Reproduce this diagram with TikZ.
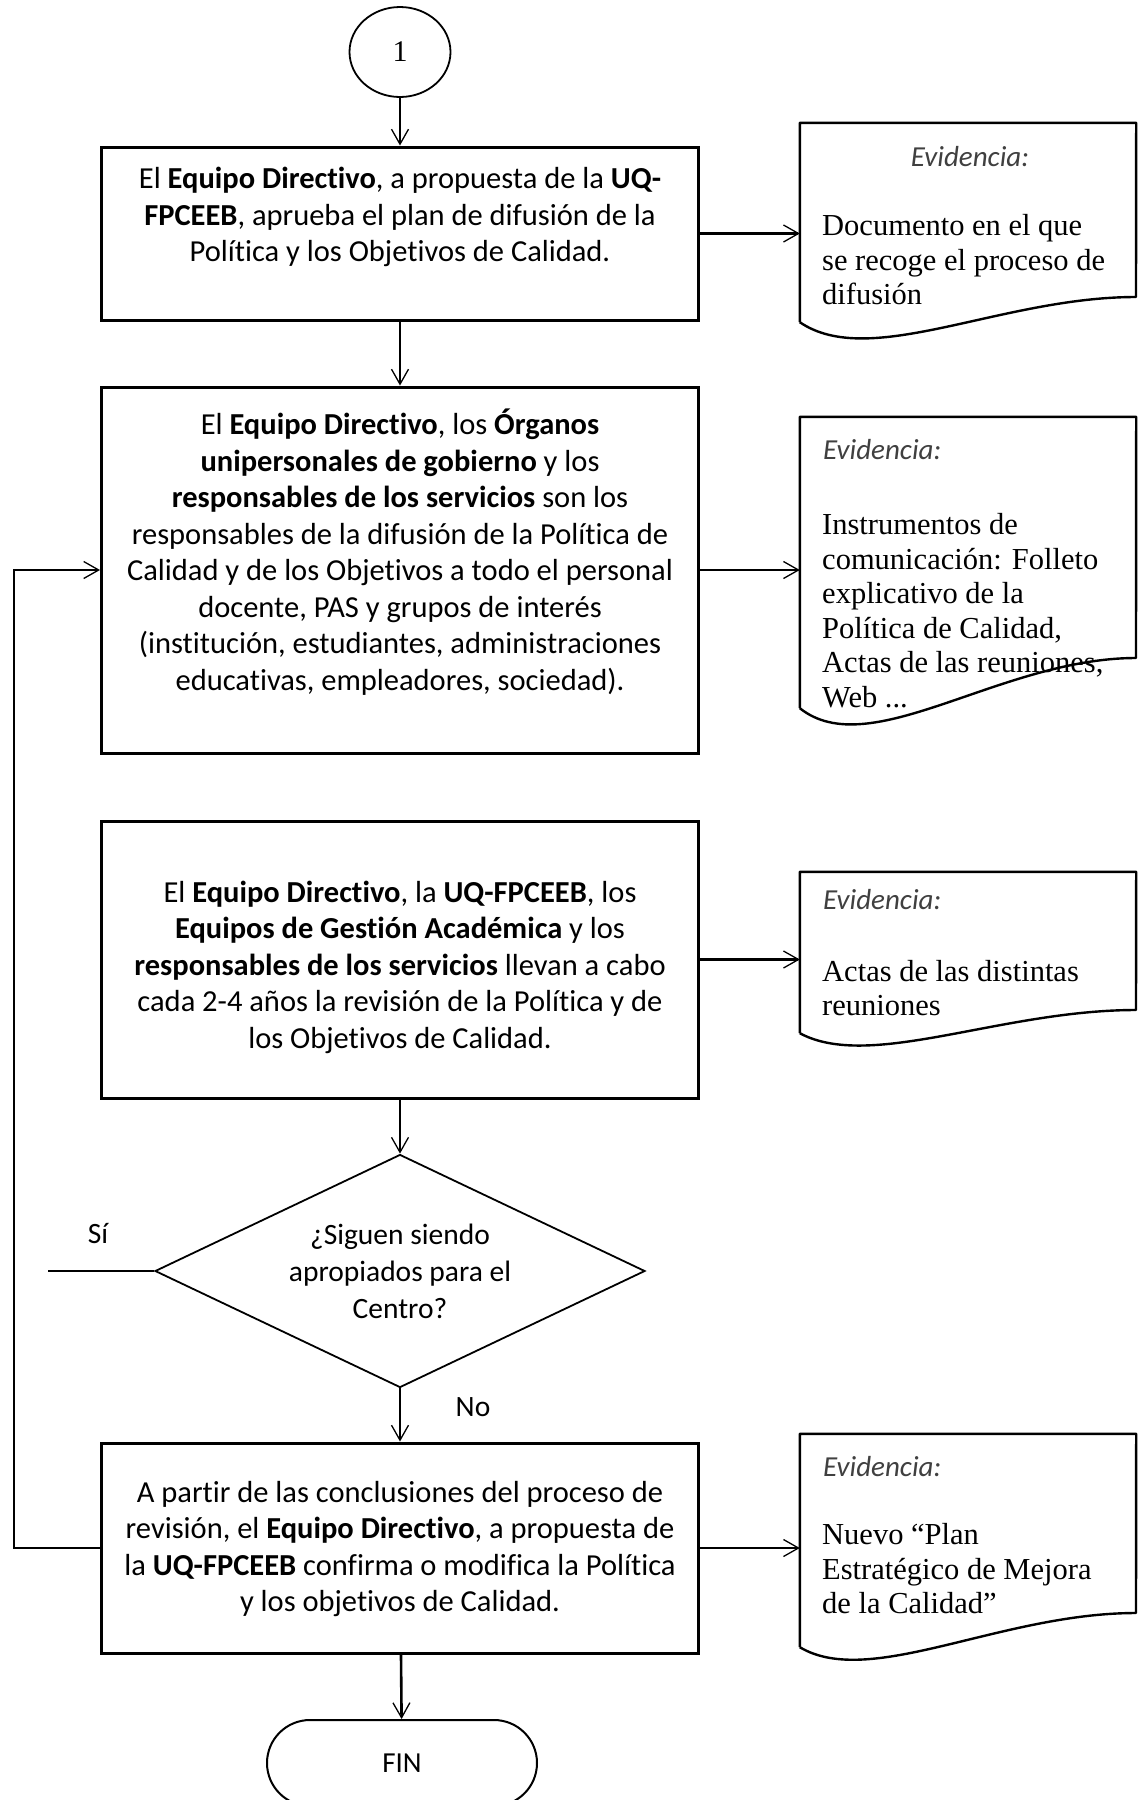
\documentclass[tikz,border=0pt]{standalone}
\usepackage{fontspec}
\setmainfont{Carlito}[Ligatures=NoCommon]
\newfontfamily\serifdoc{Liberation Serif}
\usetikzlibrary{shapes.geometric,arrows.meta}
\begin{document}
\begin{tikzpicture}[x=1pt,y=-1pt,
  box/.style={draw,line width=3pt,minimum width=597pt,inner sep=0pt},
  txt/.style={align=center,font=\fontsize{30.5}{36.5}\selectfont,inner sep=0pt},
  smalltxt/.style={align=center,font=\fontsize{29.5}{37}\selectfont,inner sep=0pt},
  dtxt/.style={align=left,font=\serifdoc\fontsize{30.5}{34.5}\selectfont,inner sep=0pt,anchor=west},
  evi/.style={font=\itshape\fontsize{29}{32}\selectfont,text=black!75,inner sep=0pt},
  docnode/.style={inner sep=0pt,minimum width=336pt},
  docline/.style={line width=2.4pt,line join=round},
  conn/.style={line width=2.6pt},
  arr/.style={conn,-{Straight Barb[length=15pt,width=17pt,line width'=1.3pt]}},
  thinshape/.style={draw,line width=1.8pt}
]
\useasboundingbox (0,0) rectangle (1138,1800);
\clip (0,0) rectangle (1138,1800);
\fill[white] (0,0) rectangle (1138,1800);

% start connector
\node[thinshape,ellipse,minimum width=101pt,minimum height=90pt,inner sep=0pt] (c1) at (400,52) {\serifdoc\fontsize{30}{32}\selectfont 1};

% process boxes
\node[box,minimum height=173pt] (b1) at (400,233.5) {};
\node[txt] (t1) at (400,217) {El \textbf{Equipo Directivo}, a propuesta de la \textbf{UQ-}\\\textbf{FPCEEB}, aprueba el plan de difusión de la\\Política y los Objetivos de Calidad.};

\node[box,minimum height=366pt] (b2) at (400,570) {};
\node[txt] (t2) at (400,552) {El \textbf{Equipo Directivo}, los \textbf{Órganos}\\\textbf{unipersonales de gobierno} y los\\\textbf{responsables de los servicios} son los\\responsables de la difusión de la Política de\\Calidad y de los Objetivos a todo el personal\\docente, PAS y grupos de interés\\(institución, estudiantes, administraciones\\educativas, empleadores, sociedad).};

\node[box,minimum height=277pt] (b3) at (400,959.5) {};
\node[txt] (t3) at (400,967) {El \textbf{Equipo Directivo}, la \textbf{UQ-FPCEEB}, los\\\textbf{Equipos de Gestión Académica} y los\\\textbf{responsables de los servicios} llevan a cabo\\cada 2-4 años la revisión de la Política y de\\los Objetivos de Calidad.};

\node[thinshape,diamond,minimum width=490pt,minimum height=233pt,inner sep=0pt,shape aspect=2.1] (dec) at (400,1271) {};
\node[smalltxt] (dt) at (400,1271) {¿Siguen siendo\\apropiados para el\\Centro?};

\node[box,minimum height=210pt] (b4) at (400,1548) {};
\node[txt] (t4) at (400,1549) {A partir de las conclusiones del proceso de\\revisión, el \textbf{Equipo Directivo}, a propuesta de\\la \textbf{UQ-FPCEEB} confirma o modifica la Política\\y los objetivos de Calidad.};

\node[draw,line width=2pt,rounded corners=43pt,minimum width=270pt,minimum height=86pt,inner sep=0pt] (fin) at (402,1763) {\fontsize{29}{32}\selectfont FIN};

% labels
\node[smalltxt] (si) at (98,1234) {Sí};
\node[smalltxt] (no) at (473,1407) {No};

% documents (evidence)
\node[docnode,minimum height=199pt] (d1) at (968,222.5) {};
\draw[docline] (d1.south west) -- (d1.north west) -- (d1.north east) -- (1136,297)
  .. controls (1000,297) and (870,370) .. (d1.south west);
\node[evi] (e1) at (970,157) {Evidencia:};
\node[dtxt] (x1) at (822,260) {Documento en el que\\se recoge el proceso de\\difusión};

\node[docnode,minimum height=291pt] (d2) at (968,562.5) {};
\draw[docline] (d2.south west) -- (d2.north west) -- (d2.north east) -- (1136,658)
  .. controls (1000,658) and (870,764) .. (d2.south west);
\node[evi,anchor=west] (e2) at (823,450) {Evidencia:};
\node[dtxt] (x2) at (822,610.5) {Instrumentos de\\comunicación: Folleto\\explicativo de la\\Política de Calidad,\\Actas de las reuniones,\\Web ...};

\node[docnode,minimum height=161pt] (d3) at (968,952.5) {};
\draw[docline] (d3.south west) -- (d3.north west) -- (d3.north east) -- (1136,1010)
  .. controls (1000,1010) and (870,1071) .. (d3.south west);
\node[evi,anchor=west] (e3) at (823,900) {Evidencia:};
\node[dtxt] (x3) at (822,988) {Actas de las distintas\\reuniones};

\node[docnode,minimum height=213pt] (d4) at (968,1540.5) {};
\draw[docline] (d4.south west) -- (d4.north west) -- (d4.north east) -- (1136,1613)
  .. controls (1000,1613) and (870,1689) .. (d4.south west);
\node[evi,anchor=west] (e4) at (823,1467) {Evidencia:};
\node[dtxt] (x4) at (822,1569) {Nuevo “Plan\\Estratégico de Mejora\\de la Calidad”};

% connectors
\draw[arr] (c1) -- (b1);
\draw[arr] (b1) -- (b2);
\draw[arr] (b3) -- (dec);
\draw[arr] (dec) -- (b4);
\draw[arr] (b4) -- (fin);
\draw[arr] (b1.east) -- (b1.east -| d1.west);
\draw[arr] (b2.east) -- (b2.east -| d2.west);
\draw[arr] (b3.east) -- (b3.east -| d3.west);
\draw[arr] (b4.east) -- (b4.east -| d4.west);
\coordinate (lp) at (14,0);
\draw[arr] (b4.west) -- (b4.west -| lp) -- (b2.west -| lp) -- (b2.west);
\coordinate (siend) at (48,1271);
\draw[conn] (dec.west) -- (siend);
\end{tikzpicture}
\end{document}
